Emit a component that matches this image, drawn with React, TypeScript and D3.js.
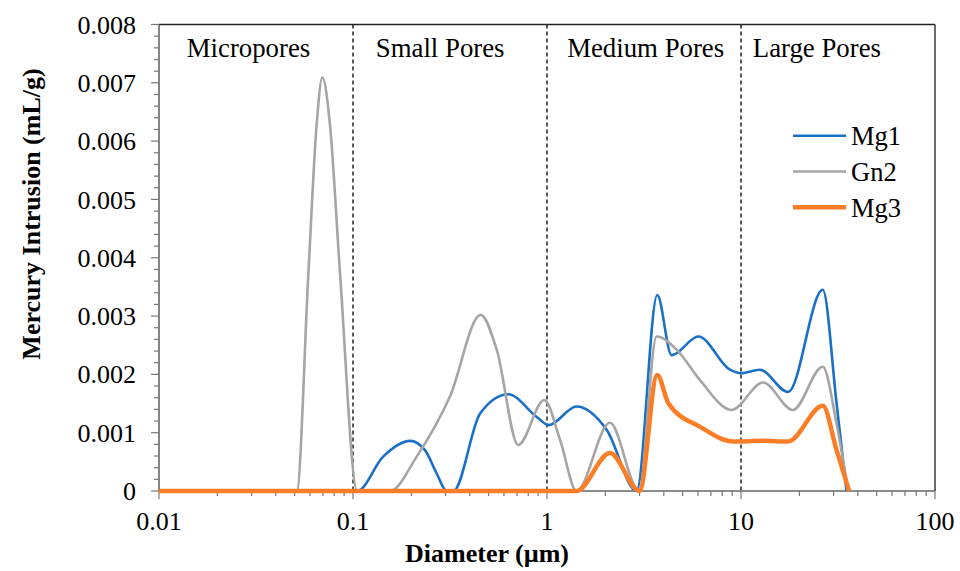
import * as d3 from "d3";
import React from "react";

// diameters (µm) and intrusion values (mL/g)
const mg1Dia = [0.01, 0.105, 0.143, 0.197, 0.235, 0.27, 0.304, 0.329, 0.452, 0.631, 0.885, 1.02, 1.42, 2.03, 2.9, 3.7, 4.39, 6.03, 8.77, 10, 12.5, 17.5, 26.4, 31.1, 35.0];
const mg1Val = [0, 0, 0.00059, 0.00086, 0.0007, 0.0003, 0, 0, 0.00133, 0.00166, 0.00127, 0.00113, 0.00145, 0.00105, 0, 0.00336, 0.00233, 0.00265, 0.00208, 0.00202, 0.00208, 0.0017, 0.00345, 0.0015, 0];

const gn2Dia = [0.01, 0.0513, 0.0589, 0.065, 0.0695, 0.076, 0.0857, 0.105, 0.155, 0.213, 0.316, 0.455, 0.551, 0.711, 0.968, 1.17, 1.42, 2.11, 2.98, 3.67, 4.67, 6.15, 8.95, 13.0, 18.5, 26.4, 31.1, 35.7];
const gn2Val = [0, 0, 0.00374, 0.0063, 0.00709, 0.0063, 0.00374, 0, 0, 0.00059, 0.00162, 0.00302, 0.00242, 0.00079, 0.00156, 0.00087, 0, 0.00117, 0, 0.00265, 0.00242, 0.0019, 0.00139, 0.00186, 0.00139, 0.00213, 0.00115, 0];

const mg3Dia = [0.01, 1.42, 2.11, 3.0, 3.7, 4.23, 6.15, 9.12, 13.0, 17.5, 26.4, 31.1, 36.1];
const mg3Val = [0, 0, 0.00065, 0, 0.00199, 0.0015, 0.0011, 0.00085, 0.00086, 0.00085, 0.00146, 0.0007, 0];

const seriesNames = ["Mg1", "Gn2", "Mg3"];
const seriesColors = ["#1a70c6", "#a5a5a5", "#fb7e26"];
const seriesWidths = [2.6, 2.6, 4.5];

const yTicks = [0, 0.001, 0.002, 0.003, 0.004, 0.005, 0.006, 0.007, 0.008];
const xTicks = [0.01, 0.1, 1, 10, 100];
const xTickLabels = ["0.01", "0.1", "1", "10", "100"];
const boundaries = [0.1, 1, 10];
const regionLabels = ["Micropores", "Small Pores", "Medium Pores", "Large Pores"];
const regionStarts = [0.0139, 0.131, 1.27, 11.5];

const W = 960, H = 571;
const left = 159, right = 935, top = 24.5, bottom = 491;
const font = "'Liberation Serif', 'Times New Roman', serif";

export default function App() {
  const x = d3.scaleLog().domain([0.01, 100]).range([left, right]);
  const y = d3.scaleLinear().domain([0, 0.008]).range([bottom, top]);

  const line = d3
    .line<[number, number]>()
    .x(d => x(d[0]))
    .y(d => y(d[1]))
    .curve(d3.curveMonotoneX);

  const series = [
    d3.zip(mg1Dia, mg1Val) as [number, number][],
    d3.zip(gn2Dia, gn2Val) as [number, number][],
    d3.zip(mg3Dia, mg3Val) as [number, number][],
  ];

  const minorX: number[] = [];
  for (let e = -2; e < 2; e++) {
    for (let k = 2; k <= 9; k++) minorX.push(k * Math.pow(10, e));
  }
  const minorY = d3.range(0, 41).map(i => i * 0.0002).filter((_, i) => i % 5 !== 0);

  return (
    <svg width={W} height={H} style={{ position: "absolute", left: 0, top: 0, background: "#fff" }} fontFamily={font}>
      {/* dashed pore-class boundaries */}
      {boundaries.map(b => (
        <line key={b} x1={x(b)} x2={x(b)} y1={top} y2={bottom} stroke="#000" strokeWidth={1.3} strokeDasharray="4,3" />
      ))}

      {/* axes frame */}
      <line x1={left} x2={right} y1={top} y2={top} stroke="#222" strokeWidth={1.6} />
      <line x1={right} x2={right} y1={top} y2={bottom} stroke="#444" strokeWidth={1.6} />
      <line x1={left} x2={left} y1={top} y2={bottom} stroke="#666" strokeWidth={1.6} />
      <line x1={left} x2={right} y1={bottom} y2={bottom} stroke="#666" strokeWidth={1.6} />

      {/* y ticks */}
      {yTicks.map(t => (
        <g key={t}>
          <line x1={left - 8} x2={left} y1={y(t)} y2={y(t)} stroke="#777" strokeWidth={1.2} />
          <text x={136} y={y(t)} dy="0.35em" textAnchor="end" fontSize={26}>{t === 0 ? "0" : t.toFixed(3)}</text>
        </g>
      ))}
      {minorY.map(t => (
        <line key={t} x1={left - 5} x2={left} y1={y(t)} y2={y(t)} stroke="#777" strokeWidth={1.2} />
      ))}

      {/* x ticks */}
      {xTicks.map((t, i) => (
        <g key={t}>
          <line x1={x(t)} x2={x(t)} y1={bottom} y2={bottom + 8} stroke="#777" strokeWidth={1.2} />
          <text x={x(t)} y={530} textAnchor="middle" fontSize={26}>{xTickLabels[i]}</text>
        </g>
      ))}
      {minorX.map(t => (
        <line key={t} x1={x(t)} x2={x(t)} y1={bottom} y2={bottom + 5} stroke="#777" strokeWidth={1.2} />
      ))}

      {/* region labels */}
      {regionLabels.map((r, i) => (
        <text key={r} x={x(regionStarts[i])} y={57} fontSize={26.8}>{r}</text>
      ))}

      {/* series */}
      {series.map((s, i) => (
        <path key={seriesNames[i]} d={line(s) || ""} fill="none" stroke={seriesColors[i]} strokeWidth={seriesWidths[i]} strokeLinejoin="round" />
      ))}

      {/* legend */}
      {seriesNames.map((n, i) => (
        <g key={n} transform={`translate(0, ${135.7 + i * 35.8})`}>
          <line x1={793} x2={846} y1={0} y2={0} stroke={seriesColors[i]} strokeWidth={seriesWidths[i]} />
          <text x={851} y={0} dy="0.35em" fontSize={26.5}>{n}</text>
        </g>
      ))}

      {/* axis titles */}
      <text x={487} y={562} textAnchor="middle" fontSize={26} fontWeight="bold">Diameter (µm)</text>
      <text transform="translate(40, 214) rotate(-90)" textAnchor="middle" fontSize={26} fontWeight="bold">Mercury Intrusion (mL/g)</text>
    </svg>
  );
}
